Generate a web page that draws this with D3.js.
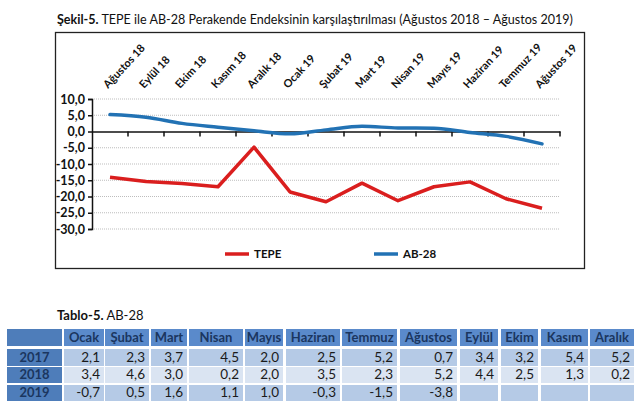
<!DOCTYPE html>
<html><head><meta charset="utf-8">
<script src="https://cdn.jsdelivr.net/npm/d3@7"></script>
<style>
html,body{margin:0;padding:0;background:#fff;}
svg{display:block;font-family:Lato,"Open Sans",sans-serif;}
</style></head>
<body>
<svg id="c" width="640" height="406"></svg>
<script>
const categories = ["Ağustos 18","Eylül 18","Ekim 18","Kasım 18","Aralık 18","Ocak 19","Şubat 19","Mart 19","Nisan 19","Mayıs 19","Haziran 19","Temmuz 19","Ağustos 19"];
const tepe = [-14.1,-15.4,-16.0,-17.0,-4.8,-18.6,-21.6,-15.9,-21.3,-17.0,-15.5,-20.7,-23.6];
const ab28 = [5.2,4.4,2.5,1.3,0.2,-0.7,0.5,1.6,1.1,1.0,-0.3,-1.5,-3.8];
const yTicks = [10,5,0,-5,-10,-15,-20,-25,-30];
const seriesNames = ["TEPE","AB-28"];
const seriesColors = ["#DA1E1E","#2272B4"];

const months = ["Ocak","Şubat","Mart","Nisan","Mayıs","Haziran","Temmuz","Ağustos","Eylül","Ekim","Kasım","Aralık"];
const tableYears = ["2017","2018","2019"];
const v2017 = [2.1,2.3,3.7,4.5,2.0,2.5,5.2,0.7,3.4,3.2,5.4,5.2];
const v2018 = [3.4,4.6,3.0,0.2,2.0,3.5,2.3,5.2,4.4,2.5,1.3,0.2];
const v2019 = [-0.7,0.5,1.6,1.1,1.0,-0.3,-1.5,-3.8,null,null,null,null];
const tableRows = [v2017,v2018,v2019];

const svg = d3.select("#c");
const fmt = v => d3.format(".1f")(v).replace(".", ",").replace("−","-");

// Title
const title = svg.append("text").attr("x",57).attr("y",24).attr("font-size",13.5).attr("fill","#111");
title.append("tspan").attr("font-weight","bold").text("Şekil-5.");
title.append("tspan").text(" TEPE ile AB-28 Perakende Endeksinin karşılaştırılması (Ağustos 2018 – Ağustos 2019)");
title.attr("textLength", 516).attr("lengthAdjust","spacingAndGlyphs");

// Frame
svg.append("rect").attr("x",55.5).attr("y",32.5).attr("width",529).attr("height",236)
  .attr("fill","none").attr("stroke","#222").attr("stroke-width",1.3);

const x = d3.scaleBand().domain(categories).range([92,560]).padding(0);
const y = d3.scaleLinear().domain([-30,10]).range([229,99]);

// Gridlines
svg.append("g").selectAll("line").data(yTicks.filter(d=>d!==0)).join("line")
  .attr("x1",92).attr("x2",560).attr("y1",d=>y(d)).attr("y2",d=>y(d))
  .attr("stroke","#bdbdbd").attr("stroke-width",1).attr("stroke-dasharray","1,1");

// Y axis
const yAxis = svg.append("g").attr("transform","translate(92,0)")
  .call(d3.axisLeft(y).tickValues(yTicks).tickSize(4).tickPadding(3).tickFormat(fmt));
yAxis.select(".domain").attr("stroke","#111").attr("stroke-width",1.5);
yAxis.selectAll(".tick line").attr("stroke","#111").attr("stroke-width",1.5);
yAxis.selectAll("text").attr("font-family","Lato,sans-serif").attr("font-weight","bold").attr("font-size",12.5).attr("fill","#111");

// X axis at zero
const xAxis = svg.append("g").attr("transform",`translate(0,${y(0)})`)
  .call(d3.axisBottom(x).tickSize(0).tickFormat(""));
xAxis.select(".domain").attr("stroke","#111").attr("stroke-width",1.5);
const bounds = categories.map(c=>x(c)).concat([x.range()[1]]);
svg.append("g").selectAll("line").data(bounds.slice(1)).join("line")
  .attr("x1",d=>d).attr("x2",d=>d).attr("y1",y(0)).attr("y2",y(0)+5)
  .attr("stroke","#111").attr("stroke-width",1.5);

// X labels rotated
svg.append("g").selectAll("text").data(categories).join("text")
  .attr("transform",d=>`translate(${x(d)+x.bandwidth()/2-2},89) rotate(-47)`)
  .attr("font-size",11).attr("font-weight","bold").attr("fill","#111")
  .text(d=>d);

// Lines
const cx = d => x(d)+x.bandwidth()/2;
svg.append("path").datum(tepe.map((v,i)=>[cx(categories[i]),y(v)]))
  .attr("d",d3.line()).attr("fill","none").attr("stroke",seriesColors[0]).attr("stroke-width",3.5).attr("stroke-linejoin","round");
svg.append("path").datum(ab28.map((v,i)=>[cx(categories[i]),y(v)]))
  .attr("d",d3.line().curve(d3.curveMonotoneX)).attr("fill","none").attr("stroke",seriesColors[1]).attr("stroke-width",3.5).attr("stroke-linecap","round");

// Legend
const legX = [225,374];
seriesNames.forEach((n,i)=>{
  svg.append("line").attr("x1",legX[i]).attr("x2",legX[i]+24).attr("y1",254).attr("y2",254)
    .attr("stroke",seriesColors[i]).attr("stroke-width",3.5);
  svg.append("text").attr("x",legX[i]+29).attr("y",258).attr("font-size",11.5).attr("font-weight","bold").attr("fill","#111").text(n);
});

// Table
const tt = svg.append("text").attr("x",57).attr("y",320).attr("font-size",13).attr("fill","#111");
tt.append("tspan").attr("font-weight","bold").text("Tablo-5.");
tt.append("tspan").text(" AB-28");

const colL = [7,64,105,151,189,245,286,342,400,460,501,541,590];
const colR = [62,104,149,187,243,283,340,397,457,498,538,588,634];
const rowT = [329,349,367,385];
const rowB = [346,366,383,401];
const headerFill = "#5A8ACB", labelFill = "#4E7DBA";
const rowFills = ["#B5CAE6","#DAE4F2","#B5CAE6"];
const navy = "#1B365F";
const g = svg.append("g");
colL.forEach((l,ci)=>{
  g.append("rect").attr("x",l).attr("y",rowT[0]).attr("width",colR[ci]-l).attr("height",rowB[0]-rowT[0]).attr("fill", ci===0?labelFill:headerFill);
  if(ci>0) g.append("text").attr("x",(l+colR[ci])/2).attr("y",rowB[0]-4).attr("text-anchor","middle")
    .attr("font-size",13).attr("font-weight","bold").attr("fill",navy).text(months[ci-1]);
});
tableRows.forEach((vals,ri)=>{
  const t = rowT[ri+1], b = rowB[ri+1];
  g.append("rect").attr("x",colL[0]).attr("y",t).attr("width",colR[0]-colL[0]).attr("height",b-t).attr("fill",labelFill);
  g.append("text").attr("x",(colL[0]+colR[0])/2).attr("y",b-4).attr("text-anchor","middle")
    .attr("font-size",13).attr("font-weight","bold").attr("fill",navy).text(tableYears[ri]);
  vals.forEach((v,ci)=>{
    const l = colL[ci+1], r = colR[ci+1];
    g.append("rect").attr("x",l).attr("y",t).attr("width",r-l).attr("height",b-t).attr("fill",rowFills[ri]);
    if(v!==null) g.append("text").attr("x",r-4).attr("y",b-4).attr("text-anchor","end")
      .attr("font-size",13.5).attr("fill","#1a1a1a").text(fmt(v));
  });
});
</script>
</body></html>
